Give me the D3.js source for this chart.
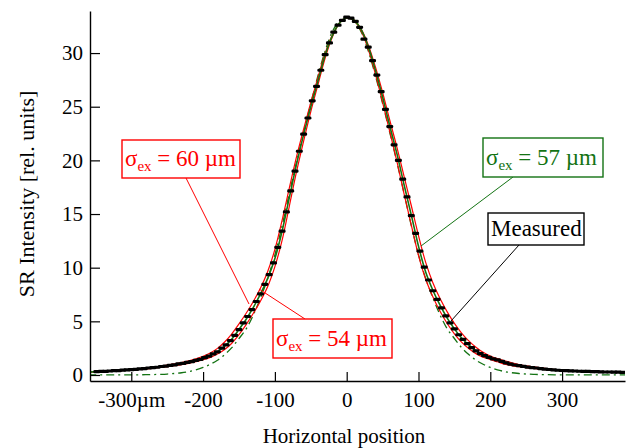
<!DOCTYPE html>
<html><head><meta charset="utf-8">
<script src="https://cdn.jsdelivr.net/npm/d3@7"></script>
<style>body{margin:0;background:#fff}svg{display:block}text{font-family:"Liberation Serif","Times New Roman",serif}</style>
</head><body><svg id="c" width="630" height="448"></svg>
<script>
// ---- data ----
const fitX = [-360,-350,-340,-330,-320,-310,-300,-290,-280,-270,-260,-250,-240,-230,-220,-210,-200,-190,-180,-170,-160,-150,-140,-130,-120,-110,-100,-90,-80,-70,-60,-50,-40,-30,-20,-10,0,10,20,30,40,50,60,70,80,90,100,110,120,130,140,150,160,170,180,190,200,210,220,230,240,250,260,270,280,290,300,310,320,330,340,350,360,370,380,390];
const fit57 = [0.28,0.30,0.33,0.37,0.41,0.45,0.50,0.55,0.61,0.68,0.76,0.85,0.95,1.06,1.19,1.36,1.56,1.82,2.18,2.68,3.35,4.25,5.2,6.3,7.55,9.0,10.85,13.4,16.5,19.6,22.4,25.0,27.4,29.8,31.6,32.8,33.3,33.1,32.2,30.6,28.4,25.9,23.2,20.6,17.7,14.9,12.0,9.6,7.9,6.5,5.3,4.3,3.45,2.8,2.25,1.85,1.58,1.38,1.18,0.98,0.86,0.76,0.68,0.6,0.52,0.46,0.42,0.39,0.36,0.34,0.32,0.30,0.28,0.27,0.26,0.25];
const fit60 = [0.29,0.31,0.34,0.38,0.42,0.47,0.52,0.57,0.64,0.71,0.80,0.93,1.04,1.16,1.32,1.50,1.74,2.05,2.48,3.07,3.84,4.76,5.75,6.85,8.1,9.65,11.7,14.4,17.4,20.3,22.92,25.41,27.74,29.98,31.68,32.82,33.3,33.11,32.26,30.76,28.71,26.33,23.74,21.22,18.48,15.77,12.99,10.49,8.6,7.12,5.88,4.81,3.91,3.18,2.59,2.11,1.76,1.52,1.33,1.14,0.96,0.85,0.75,0.66,0.58,0.5,0.45,0.41,0.38,0.35,0.33,0.31,0.29,0.28,0.27,0.26];
const fit54 = [0.27,0.29,0.32,0.35,0.39,0.43,0.47,0.52,0.57,0.63,0.70,0.77,0.86,0.97,1.09,1.23,1.42,1.64,1.95,2.37,2.96,3.76,4.7,5.75,6.9,8.25,10.1,12.55,15.7,18.9,21.8,24.55,27.06,29.54,31.5,32.78,33.3,33.06,32.09,30.36,28.05,25.41,22.69,19.88,16.86,13.97,11.14,8.92,7.3,5.94,4.8,3.84,3.07,2.46,1.99,1.67,1.44,1.23,1.02,0.88,0.77,0.69,0.62,0.55,0.49,0.44,0.40,0.37,0.35,0.33,0.31,0.29,0.27,0.26,0.25,0.24];
const gaussFit = [0.02,0.02,0.02,0.02,0.02,0.02,0.02,0.02,0.03,0.04,0.06,0.09,0.14,0.21,0.32,0.48,0.7,1.0,1.38,1.9,2.55,3.4,4.3,5.6,7.2,9.0,11.2,13.9,16.9,19.8,22.6,25.3,27.9,30.2,32.0,33.0,33.3,33.0,32.0,30.2,27.9,25.3,22.6,19.8,16.9,13.9,11.2,9.0,7.2,5.6,4.3,3.4,2.55,1.9,1.38,1.0,0.7,0.48,0.32,0.21,0.14,0.09,0.06,0.04,0.03,0.02,0.02,0.02,0.02,0.02,0.02,0.02,0.02,0.02,0.02,0.02];
const measured = [[-348,0.31],[-342,0.33],[-336,0.34],[-330,0.37],[-324,0.40],[-318,0.41],[-312,0.45],[-306,0.47],[-300,0.50],[-294,0.52],[-288,0.57],[-282,0.59],[-276,0.65],[-270,0.69],[-264,0.72],[-258,0.79],[-252,0.82],[-246,0.90],[-240,0.94],[-234,1.03],[-228,1.08],[-222,1.18],[-216,1.25],[-210,1.37],[-204,1.46],[-198,1.62],[-192,1.76],[-186,1.97],[-180,2.16],[-174,2.50],[-168,2.80],[-162,3.21],[-156,3.70],[-150,4.22],[-144,4.85],[-138,5.45],[-132,6.1],[-126,6.85],[-120,7.55],[-114,8.45],[-108,9.35],[-102,10.45],[-96,11.9],[-90,13.4],[-84,15.2],[-78,17.15],[-72,19.0],[-66,20.85],[-60,22.45],[-54,23.95],[-48,25.55],[-42,26.9],[-36,28.4],[-30,29.85],[-24,30.95],[-18,31.95],[-12,32.6],[-6,33.05],[0,33.35],[6,33.25],[12,32.95],[18,32.4],[24,31.3],[30,30.55],[36,29.3],[42,27.95],[48,26.4],[54,24.75],[60,23.15],[66,21.45],[72,20.0],[78,18.25],[84,16.6],[90,14.85],[96,13.2],[102,11.55],[108,10.05],[114,8.85],[120,7.85],[126,7.05],[132,6.25],[138,5.5],[144,4.85],[150,4.3],[156,3.75],[162,3.32],[168,2.92],[174,2.55],[180,2.25],[186,2.0],[192,1.8],[198,1.65],[204,1.5],[210,1.4],[216,1.27],[222,1.13],[228,1.02],[234,0.93],[240,0.87],[246,0.8],[252,0.74],[258,0.69],[264,0.65],[270,0.6],[276,0.55],[282,0.51],[288,0.47],[294,0.44],[300,0.42],[306,0.40],[312,0.38],[318,0.37],[324,0.35],[330,0.34],[336,0.33],[342,0.32],[348,0.31],[354,0.29],[360,0.28],[366,0.28],[372,0.26],[378,0.26],[384,0.25]];
const xTicks = [-300,-200,-100,0,100,200,300];
const yTicks = [0,5,10,15,20,25,30];
const xDomain = [-357.5, 387.6];
const yDomain = [-0.56, 33.92];
const labels = [
  {kind:"sigma", value:"60", color:"#ff0000", box:[122,140,240,178], tx:125, ty:166, leader:[186,178,249,304]},
  {kind:"sigma", value:"54", color:"#ff0000", box:[273,319,392,358], tx:276, ty:346, leader:[259,289,305,319]},
  {kind:"sigma", value:"57", color:"#137313", box:[483,138,603,177], tx:486, ty:164.5, leader:[513,177,421,246]},
  {kind:"plain", text:"Measured", color:"#000000", box:[488,213,584,245], tx:491, ty:236, leader:[519,245,451,321]}
];

// ---- drawing ----
const svg = d3.select("#c");
const x = d3.scaleLinear().domain(xDomain).range([90, 625]);
const y = d3.scaleLinear().domain(yDomain).range([381, 11]);

svg.append("clipPath").attr("id","clip").append("rect")
  .attr("x",90).attr("y",5).attr("width",535).attr("height",376);
const plot = svg.append("g").attr("clip-path","url(#clip)");

const line = d3.line().x(d=>x(d[0])).y(d=>y(d[1])).curve(d3.curveCatmullRom);
const ser = arr => fitX.map((v,i)=>[v,arr[i]]);

plot.append("path").datum(ser(gaussFit)).attr("d",line)
  .attr("fill","none").attr("stroke","#137313").attr("stroke-width",1.3).attr("stroke-dasharray","8,4,2,4");
plot.append("path").datum(ser(fit60)).attr("d",line)
  .attr("fill","none").attr("stroke","#ff0000").attr("stroke-width",1.2);
plot.append("path").datum(ser(fit54)).attr("d",line)
  .attr("fill","none").attr("stroke","#ff0000").attr("stroke-width",1.2);
plot.append("path").datum(ser(fit57)).attr("d",line)
  .attr("fill","none").attr("stroke","#137313").attr("stroke-width",1.6);
plot.selectAll("rect.m").data(measured).enter().append("rect").attr("class","m")
  .attr("x",d=>x(d[0])-3.5).attr("y",d=>y(d[1])-1.6).attr("width",7).attr("height",3.2).attr("rx",1.3)
  .attr("fill","#000");

// axes
const yAxis = d3.axisLeft(y).tickValues(yTicks).tickSizeInner(-10).tickSizeOuter(0).tickPadding(7).tickFormat(d=>String(d));
const gy = svg.append("g").attr("transform","translate(90,0)").call(yAxis);
const xAxis = d3.axisBottom(x).tickValues(xTicks).tickSizeInner(-9).tickSizeOuter(0).tickPadding(11)
  .tickFormat(d=> d===-300 ? "-300µm" : String(d));
const gx = svg.append("g").attr("transform","translate(0,381)").call(xAxis);
[gx,gy].forEach(g=>{
  g.select(".domain").attr("stroke","#000").attr("stroke-width",1.4);
  g.selectAll(".tick line").attr("stroke","#000").attr("stroke-width",1.2);
  g.selectAll(".tick text").attr("fill","#000").style("font-size","21px").style("font-family",'"Liberation Serif",serif');
});

svg.append("text").attr("x",344).attr("y",443).attr("text-anchor","middle")
  .style("font-size","21px").text("Horizontal position");
svg.append("text").attr("transform","translate(34,194) rotate(-90)").attr("text-anchor","middle")
  .style("font-size","22px").text("SR Intensity [rel. units]");

// annotations
const ann = svg.append("g");
labels.forEach(l=>{
  ann.append("line").attr("x1",l.leader[0]).attr("y1",l.leader[1]).attr("x2",l.leader[2]).attr("y2",l.leader[3])
    .attr("stroke",l.color).attr("stroke-width",1);
  ann.append("rect").attr("x",l.box[0]).attr("y",l.box[1]).attr("width",l.box[2]-l.box[0]).attr("height",l.box[3]-l.box[1])
    .attr("fill","#fff").attr("stroke",l.color).attr("stroke-width",1.4);
  const t = ann.append("text").attr("x",l.tx).attr("y",l.ty).attr("fill",l.color).style("font-size","23px");
  if(l.kind==="sigma"){
    t.append("tspan").text("σ");
    t.append("tspan").attr("dy",5).style("font-size","15px").text("ex");
    t.append("tspan").attr("dy",-5).text(" = "+l.value+" µm");
  } else {
    t.text(l.text);
  }
});
</script></body></html>
